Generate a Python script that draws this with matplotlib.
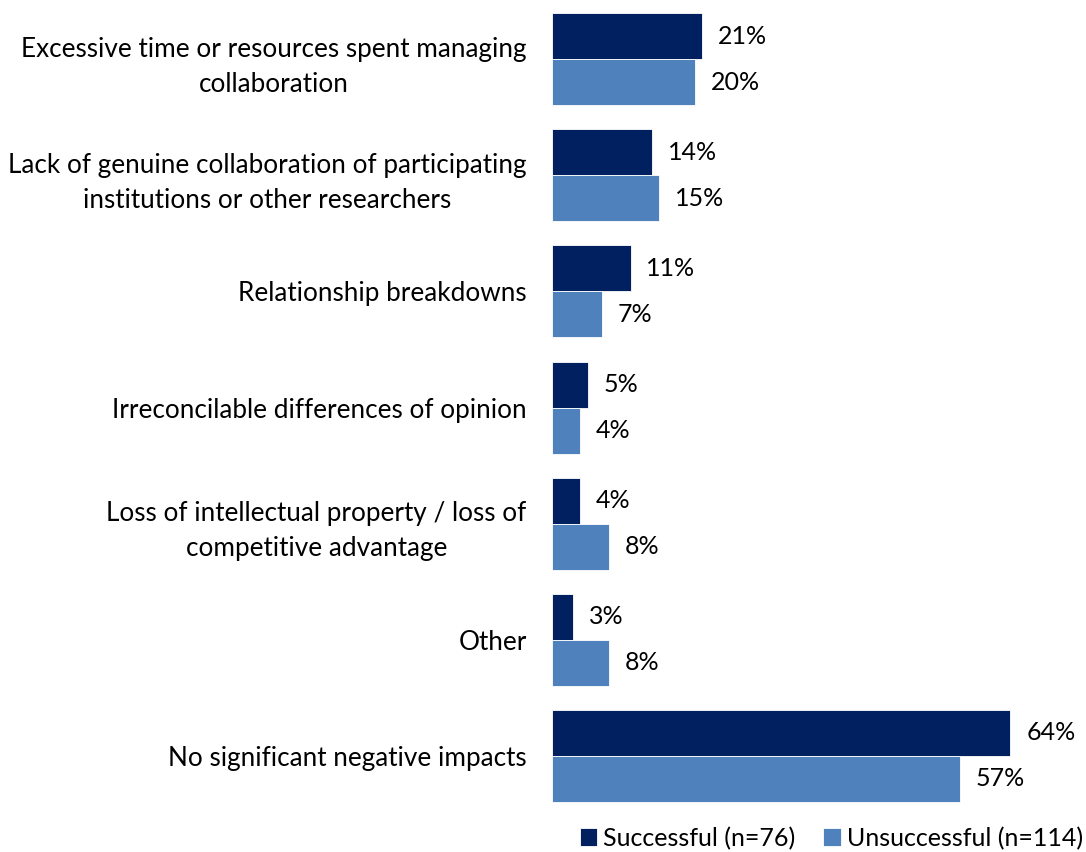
import numpy as np
import matplotlib.pyplot as plt

plt.rcParams['font.family'] = ['Lato', 'DejaVu Sans']

categories = [
    "Excessive time or resources spent managing\ncollaboration",
    "Lack of genuine collaboration of participating\ninstitutions or other researchers",
    "Relationship breakdowns",
    "Irreconcilable differences of opinion",
    "Loss of intellectual property / loss of\ncompetitive advantage",
    "Other",
    "No significant negative impacts",
]
successful = [21, 14, 11, 5, 4, 3, 64]
unsuccessful = [20, 15, 7, 4, 8, 8, 57]
series_names = ["Successful (n=76)", "Unsuccessful (n=114)"]

dark = "#002060"
light = "#4F81BD"
fs = 18

fig = plt.figure(figsize=(10.86, 8.52), dpi=100)
ax = fig.add_axes([0.508, 0.0446, 0.462, 0.954])

y = np.arange(len(categories))
h = 0.396
b1 = ax.barh(y - h / 2, successful, height=h, color=dark, edgecolor="white",
             linewidth=0.6, label=series_names[0])
b2 = ax.barh(y + h / 2, unsuccessful, height=h, color=light, edgecolor="white",
             linewidth=0.6, label=series_names[1])

for bars, vals in ((b1, successful), (b2, unsuccessful)):
    for bar, v in zip(bars, vals):
        ax.text(v + 2.2, bar.get_y() + bar.get_height() / 2, f"{v}%",
                va="center", ha="left", fontsize=fs, color="black")

ax.set_xlim(0, 70)
ax.set_ylim(len(categories) - 0.5, -0.5)
ax.set_yticks(y)
ax.set_yticklabels(categories, fontsize=18.8, multialignment="center",
                   linespacing=1.5)
ax.tick_params(axis="y", length=0, pad=18)
ax.set_xticks([])
for s in ax.spines.values():
    s.set_visible(False)

fig.legend(handles=[b1, b2], loc="lower right", bbox_to_anchor=(1.018, -0.024),
           ncol=2, frameon=False, fontsize=fs, handlelength=0.7,
           handleheight=0.7, handletextpad=0.25, columnspacing=1.1)

fig.savefig("out.png", dpi=100)
